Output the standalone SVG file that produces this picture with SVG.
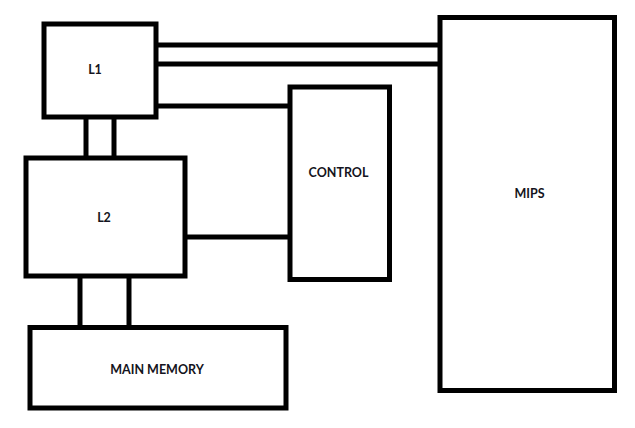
<svg xmlns="http://www.w3.org/2000/svg" width="635" height="428" viewBox="0 0 635 428">
<style>
.box{fill:#fff;stroke:#000;stroke-width:5}
.ln{stroke:#000;stroke-width:5;fill:none}
.lbl{font-family:Lato,"Liberation Sans",Arial,sans-serif;font-weight:bold;font-size:12.5px;fill:#141420;text-anchor:middle;dominant-baseline:central}
</style>
<rect width="635" height="428" fill="#fff"/>
<g id="connectors">
<line class="ln" x1="156" y1="45" x2="440" y2="45"/>
<line class="ln" x1="156" y1="64" x2="440" y2="64"/>
<line class="ln" x1="156" y1="106" x2="290" y2="106"/>
<line class="ln" x1="185" y1="237" x2="290" y2="237"/>
<line class="ln" x1="86" y1="117" x2="86" y2="158"/>
<line class="ln" x1="114" y1="117" x2="114" y2="158"/>
<line class="ln" x1="80" y1="276" x2="80" y2="327"/>
<line class="ln" x1="129" y1="276" x2="129" y2="327"/>
</g>
<g id="L1">
<rect class="box" x="44" y="24" width="112" height="93"/>
<text class="lbl" x="95" y="69">L1</text>
</g>
<g id="L2">
<rect class="box" x="26" y="158" width="159" height="118"/>
<text class="lbl" x="104" y="217">L2</text>
</g>
<g id="CONTROL">
<rect class="box" x="290" y="87" width="99.5" height="192.5"/>
<text class="lbl" x="338.5" y="172">CONTROL</text>
</g>
<g id="MAIN_MEMORY">
<rect class="box" x="30" y="327.5" width="256" height="80.5"/>
<text class="lbl" x="157" y="369">MAIN MEMORY</text>
</g>
<g id="MIPS">
<rect class="box" x="440" y="17.5" width="174.5" height="373"/>
<text class="lbl" x="529.5" y="193">MIPS</text>
</g>
</svg>
